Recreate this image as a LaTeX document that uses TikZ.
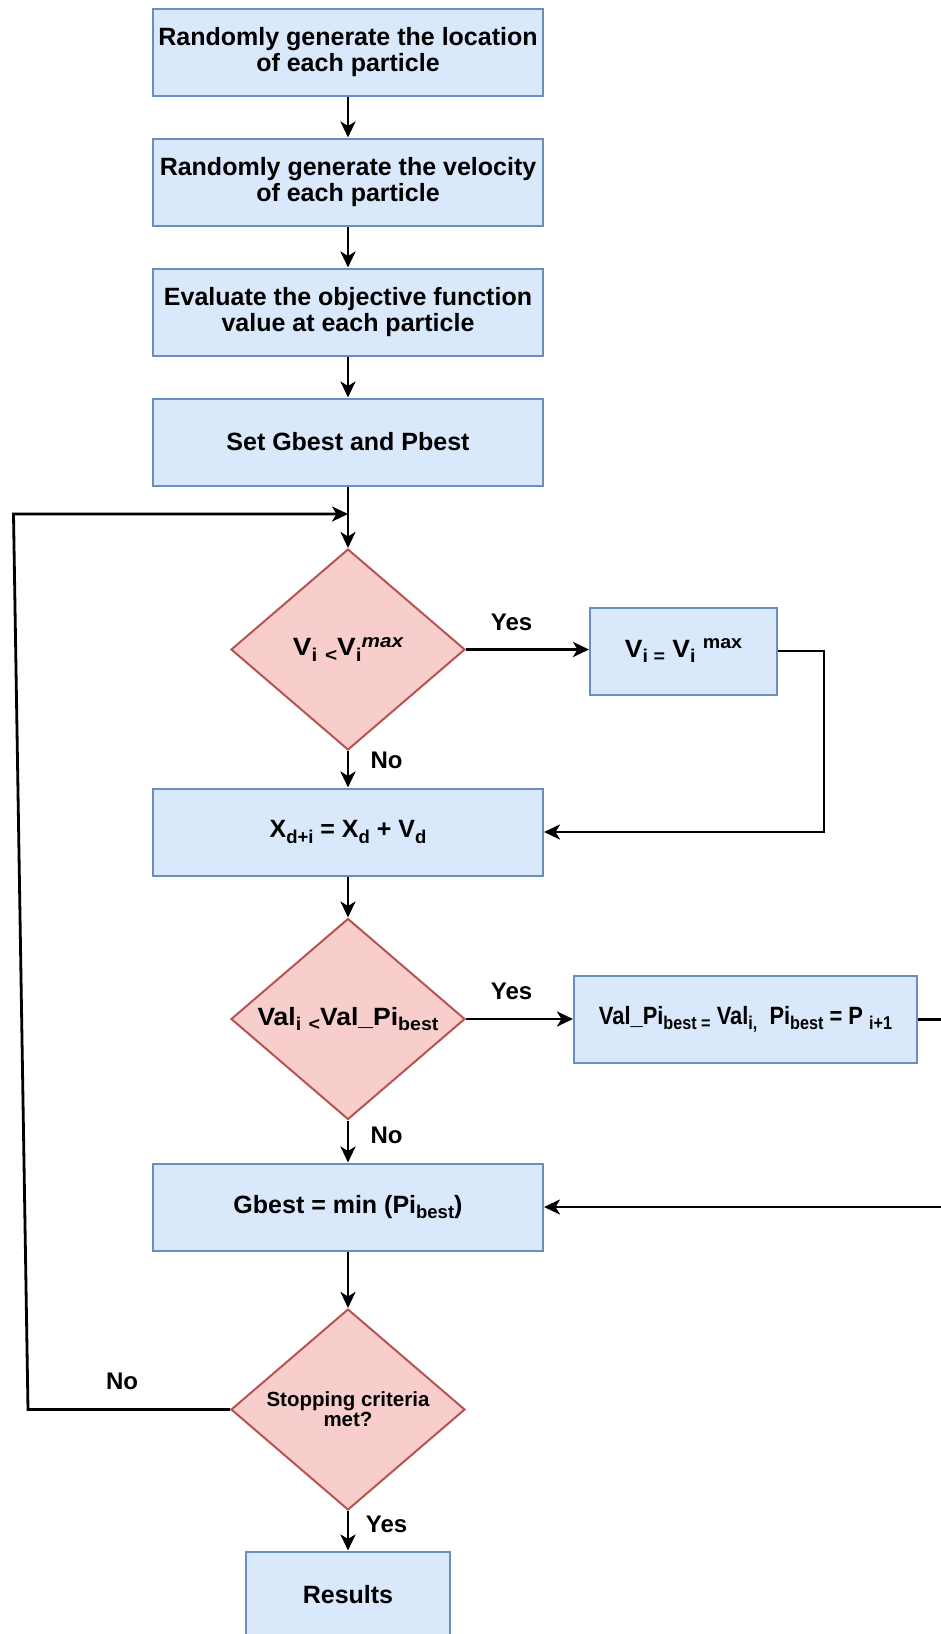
\documentclass[tikz,border=0pt]{standalone}
\usepackage{fontspec}
\setmainfont{Liberation Sans}
\usetikzlibrary{shapes.geometric,arrows.meta}
\definecolor{bfill}{HTML}{DAE8FC}
\definecolor{bdraw}{HTML}{6C8EBF}
\definecolor{rfill}{HTML}{F8CECC}
\definecolor{rdraw}{HTML}{B85450}
\newcommand\dn[1]{\raisebox{-5.5pt}{\fontsize{18.5}{18.5}\selectfont #1}}
\newcommand\up[1]{\raisebox{8.5pt}{\fontsize{18.5}{18.5}\selectfont #1}}
\begin{document}
\begin{tikzpicture}[x=1pt,y=-1pt,
  box/.style={draw=bdraw,fill=bfill,line width=2pt,minimum width=390pt,minimum height=87pt,inner sep=0pt,
    font=\fontsize{25}{26.5}\selectfont\bfseries,align=center},
  dia/.style={shape=diamond,draw=rdraw,fill=rfill,line width=2pt,minimum width=234pt,minimum height=201pt,
    inner sep=0pt,font=\fontsize{25}{26.5}\selectfont\bfseries,align=center},
  arr/.style={line width=2.8pt,-{Stealth[length=16pt,width=15pt,inset=4.5pt]}},
  lbl/.style={font=\fontsize{24}{26}\selectfont\bfseries}]
\useasboundingbox (0,0) rectangle (941,1634);
\clip (0,0) rectangle (941,1634);
\fill[white] (0,0) rectangle (941,1634);

\node[box] (b1) at (348,52) {Randomly generate the location\\of each particle};
\node[box] (b2) at (348,182) {Randomly generate the velocity\\of each particle};
\node[box] (b3) at (348,312) {Evaluate the objective function\\value at each particle};
\node[box] (b4) at (348,442) {Set Gbest and Pbest};
\node[dia] (d1) at (348,649.5) {\makebox[0pt]{\scalebox{1.12}[1]{V\dn{i} \dn{<}V\dn{i}\up{\itshape max}}}};
\node[box,minimum width=187pt] (bv) at (683.5,651) {\scalebox{1.06}[1]{V\dn{i =} V\dn{i} \up{max}}};
\node[box] (bx) at (348,832) {X\dn{d+i} = X\dn{d} + V\dn{d}};
\node[dia] (d2) at (348,1019) {\makebox[0pt]{\scalebox{1.06}[1]{Val\dn{i} \dn{<}Val\_Pi\dn{best}}}};
\node[box,minimum width=343pt] (bp) at (745.5,1019.5) {\scalebox{0.875}[1]{Val\_Pi\dn{best =} Val\dn{i,}\ \ Pi\dn{best} = P \dn{i+1}}};
\node[box] (bg) at (348,1207) {Gbest = min (Pi\dn{best})};
\node[dia,font=\fontsize{20.5}{20.5}\selectfont\bfseries] (d3) at (348,1409.5) {\makebox[0pt]{\smash{\raisebox{-8pt}{\begin{tabular}{@{}c@{}}Stopping criteria\\met?\end{tabular}}}}};
\node[box,minimum width=204pt] (br) at (348,1595) {Results};

\coordinate (l1) at (28,1409.5);
\coordinate (l2) at (13.5,514);
\coordinate (l3) at (348,514);
\coordinate (r2) at (824,832);
\coordinate (q2) at (965,1207);

\draw[arr] (b1) -- (b2);
\draw[arr] (b2) -- (b3);
\draw[arr] (b3) -- (b4);
\draw[arr] (b4) -- (d1);
\draw[arr] (d1.east) -- (d1.east -| bv.west);
\draw[arr] (d1) -- (bx);
\draw[arr] (bv.east) -| (r2) -- (bx.east);
\draw[arr] (bx) -- (d2);
\draw[arr] (d2.east) -- (d2.east -| bp.west);
\draw[arr] (d2) -- (bg);
\draw[arr] (bp.east) -| (q2) -- (bg.east);
\draw[arr] (bg) -- (d3);
\draw[arr] (d3) -- (br);
\draw[arr] (d3.west) -- (l1) -- (l2) -- (l3);

\node[lbl] (y1) at (511.6,622) {Yes};
\node[lbl] (n1) at (386.6,760) {No};
\node[lbl] (y2) at (511.6,991) {Yes};
\node[lbl] (n2) at (386.6,1135) {No};
\node[lbl] (n3) at (122,1381) {No};
\node[lbl] (y3) at (386.6,1524) {Yes};
\end{tikzpicture}
\end{document}
